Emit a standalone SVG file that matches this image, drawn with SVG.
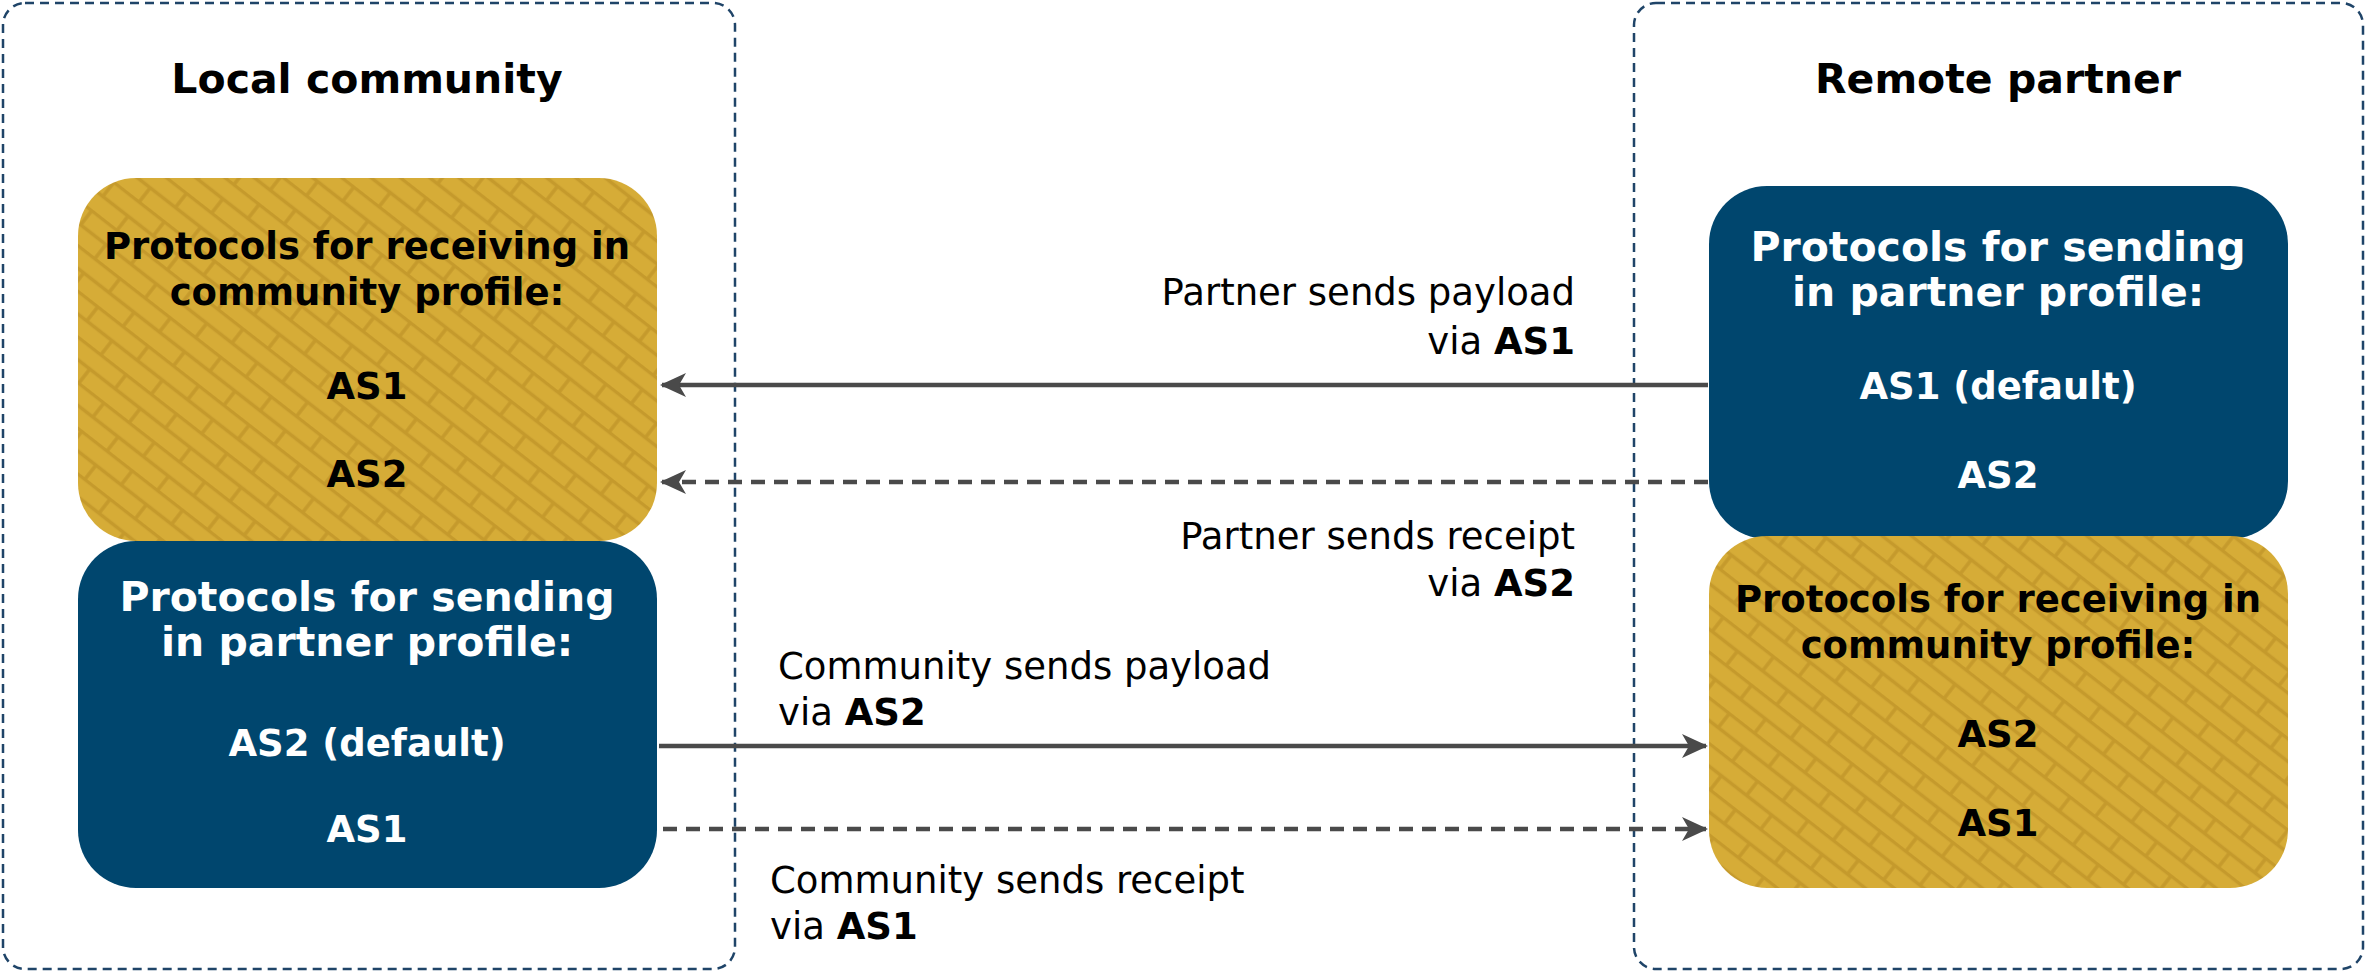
<svg xmlns="http://www.w3.org/2000/svg" width="2367" height="973" viewBox="0 0 2367 973">
<defs>
<pattern id="brick" width="64" height="36" patternUnits="userSpaceOnUse" patternTransform="rotate(38)">
<rect width="64" height="36" fill="#d6ac37"/>
<path d="M0 1.5H64M0 19.5H64M10 1.5V19.5M42 19.5V36" stroke="#c59a2c" stroke-width="3.5" fill="none"/>
</pattern>
<marker id="ah" markerWidth="26" markerHeight="24" refX="24" refY="12" orient="auto" markerUnits="userSpaceOnUse" viewBox="0 0 26 24">
<path d="M0 0L26 12L0 24L7 12Z" fill="#4a4a4a"/>
</marker>
</defs>
<style>
.frame{fill:none;stroke:#1f4468;stroke-width:2.5;stroke-dasharray:9 6}
.y{fill:url(#brick)}
.b{fill:#00466e}
text{font-family:"DejaVu Sans","Verdana",sans-serif}
.t{font-size:41px;font-weight:bold;fill:#000;text-anchor:middle}
.yt{font-size:37px;font-weight:bold;fill:#000;text-anchor:middle}
.bt{font-size:41px;font-weight:bold;fill:#fff;text-anchor:middle}
.bs{font-size:37px;font-weight:bold;fill:#fff;text-anchor:middle}
.ys{font-size:37px;font-weight:bold;fill:#000;text-anchor:middle}
.l{font-size:37px;fill:#000}
.r{text-anchor:end}
.c{stroke:#4a4a4a;stroke-width:4.5;fill:none}
.d{stroke-dasharray:14 9}
</style>
<g id="local-frame"><rect class="frame" x="3" y="3" width="732" height="966" rx="22"/><text class="t" x="367" y="93">Local community</text></g>
<g id="remote-frame"><rect class="frame" x="1634" y="3" width="729" height="966" rx="22"/><text class="t" x="1998" y="93">Remote partner</text></g>
<g id="local-receive"><rect class="y" x="78" y="178" width="579" height="363" rx="58"/>
<text class="yt" x="367" y="259">Protocols for receiving in</text><text class="yt" x="367" y="305">community profile:</text>
<text class="ys" x="367" y="399">AS1</text><text class="ys" x="367" y="487">AS2</text></g>
<g id="local-send"><rect class="b" x="78" y="541" width="579" height="347" rx="58"/>
<text class="bt" x="367" y="611">Protocols for sending</text><text class="bt" x="367" y="656">in partner profile:</text>
<text class="bs" x="367" y="756">AS2 (default)</text><text class="bs" x="367" y="842">AS1</text></g>
<g id="remote-send"><rect class="b" x="1709" y="186" width="579" height="353" rx="58"/>
<text class="bt" x="1998" y="261">Protocols for sending</text><text class="bt" x="1998" y="306">in partner profile:</text>
<text class="bs" x="1998" y="399">AS1 (default)</text><text class="bs" x="1998" y="488">AS2</text></g>
<g id="remote-receive"><rect class="y" x="1709" y="536" width="579" height="352" rx="58"/>
<text class="yt" x="1998" y="612">Protocols for receiving in</text><text class="yt" x="1998" y="658">community profile:</text>
<text class="ys" x="1998" y="747">AS2</text><text class="ys" x="1998" y="836">AS1</text></g>
<g id="connectors">
<line class="c" x1="1708" y1="385" x2="662" y2="385" marker-end="url(#ah)"/>
<line class="c d" x1="1708" y1="482" x2="662" y2="482" marker-end="url(#ah)"/>
<line class="c" x1="659" y1="746" x2="1706" y2="746" marker-end="url(#ah)"/>
<line class="c d" x1="663" y1="829" x2="1706" y2="829" marker-end="url(#ah)"/>
<text class="l r" x="1575" y="305">Partner sends payload</text>
<text class="l r" x="1575" y="354">via <tspan font-weight="bold">AS1</tspan></text>
<text class="l r" x="1575" y="549">Partner sends receipt</text>
<text class="l r" x="1575" y="596">via <tspan font-weight="bold">AS2</tspan></text>
<text class="l" x="778" y="679">Community sends payload</text>
<text class="l" x="778" y="725">via <tspan font-weight="bold">AS2</tspan></text>
<text class="l" x="770" y="893">Community sends receipt</text>
<text class="l" x="770" y="939">via <tspan font-weight="bold">AS1</tspan></text>
</g>
</svg>
